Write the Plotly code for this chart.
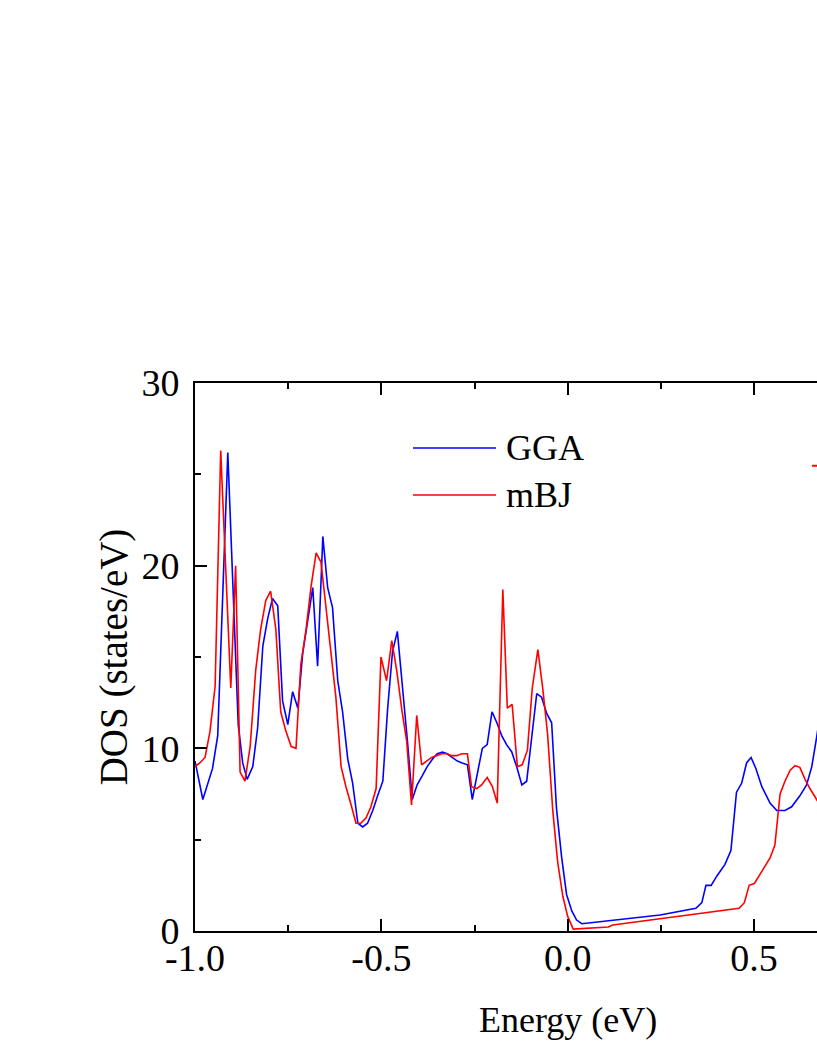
import plotly.graph_objects as go

# GGA curve
energy_gga = [-1.000, -0.979, -0.953, -0.939, -0.912, -0.884, -0.872, -0.860, -0.845, -0.832,
              -0.818, -0.805, -0.792, -0.778, -0.765, -0.751, -0.738, -0.724, -0.711, -0.698,
              -0.684, -0.671, -0.657, -0.644, -0.631, -0.617, -0.604, -0.590, -0.577, -0.563,
              -0.550, -0.537, -0.523, -0.510, -0.496, -0.483, -0.470, -0.457, -0.444, -0.430,
              -0.417, -0.404, -0.390, -0.377, -0.363, -0.350, -0.336, -0.323, -0.310, -0.296,
              -0.283, -0.269, -0.256, -0.243, -0.229, -0.216, -0.203, -0.190, -0.177, -0.164,
              -0.150, -0.137, -0.123, -0.110, -0.097, -0.083, -0.070, -0.056, -0.043, -0.030,
              -0.016, -0.003, 0.011, 0.024, 0.038, 0.248, 0.344, 0.360, 0.371, 0.385,
              0.400, 0.422, 0.438, 0.453, 0.467, 0.480, 0.492, 0.505, 0.521, 0.543,
              0.561, 0.583, 0.601, 0.623, 0.641, 0.655, 0.668, 0.685, 0.700]
dos_gga = [9.3, 7.2, 8.9, 10.7, 26.2, 11.3, 9.2, 8.3, 9.0, 11.1,
           15.6, 17.1, 18.2, 17.8, 12.6, 11.3, 13.1, 12.2, 15.2, 17.0,
           18.8, 14.5, 21.6, 18.8, 17.7, 13.7, 12.0, 9.4, 8.1, 5.9,
           5.7, 5.9, 6.6, 7.4, 8.2, 12.2, 15.3, 16.4, 13.7, 10.4,
           7.2, 8.0, 8.5, 9.0, 9.4, 9.7, 9.8, 9.7, 9.5, 9.3,
           9.2, 9.1, 7.2, 8.6, 10.0, 10.2, 12.0, 11.4, 10.7, 10.2,
           9.8, 9.0, 8.0, 8.2, 10.6, 13.0, 12.8, 11.9, 11.4, 6.7,
           4.0, 2.0, 1.1, 0.6, 0.4, 0.88, 1.24, 1.55, 2.5, 2.5,
           3.0, 3.65, 4.4, 7.6, 8.1, 9.2, 9.5, 8.9, 7.9, 7.0,
           6.6, 6.6, 6.8, 7.4, 8.0, 9.0, 10.6, 13.0, 15.0]

# mBJ curve
energy_mbj = [-1.000, -0.987, -0.973, -0.960, -0.946, -0.931, -0.904, -0.891, -0.879, -0.866,
              -0.852, -0.837, -0.824, -0.810, -0.797, -0.783, -0.770, -0.757, -0.742, -0.729,
              -0.716, -0.702, -0.689, -0.675, -0.662, -0.649, -0.635, -0.622, -0.608, -0.595,
              -0.581, -0.568, -0.555, -0.541, -0.528, -0.514, -0.501, -0.486, -0.472, -0.459,
              -0.445, -0.432, -0.419, -0.405, -0.392, -0.378, -0.365, -0.352, -0.338, -0.325,
              -0.311, -0.298, -0.284, -0.269, -0.258, -0.244, -0.231, -0.216, -0.202, -0.189,
              -0.174, -0.162, -0.149, -0.135, -0.122, -0.108, -0.095, -0.080, -0.067, -0.054,
              -0.040, -0.027, -0.013, 0.000, 0.015, 0.109, 0.121, 0.460, 0.474, 0.487,
              0.501, 0.516, 0.543, 0.556, 0.570, 0.583, 0.597, 0.610, 0.623, 0.637,
              0.650, 0.668, 0.685, 0.700]
dos_mbj = [9.0, 9.2, 9.5, 10.9, 13.4, 26.3, 13.3, 20.0, 8.7, 8.2,
           10.1, 14.3, 16.5, 18.1, 18.6, 16.5, 12.0, 11.0, 10.1, 10.0,
           14.6, 16.5, 18.8, 20.7, 20.2, 17.9, 15.2, 12.8, 9.0, 7.9,
           6.9, 5.9, 5.9, 6.2, 6.8, 7.8, 15.0, 13.7, 15.9, 14.3,
           12.1, 10.4, 6.9, 11.8, 9.1, 9.3, 9.5, 9.6, 9.7, 9.7,
           9.6, 9.6, 9.7, 9.7, 7.9, 7.8, 8.0, 8.4, 7.9, 7.0,
           18.7, 12.2, 12.4, 9.0, 9.1, 9.9, 13.3, 15.4, 13.3, 10.8,
           6.6, 3.8, 1.9, 0.8, 0.1, 0.22, 0.33, 1.24, 1.55, 2.5,
           2.6, 3.1, 4.0, 4.7, 7.5, 8.2, 8.8, 9.05, 8.96, 8.3,
           7.8, 7.2, 6.6, 6.2]

x_tickvals = [-1.0, -0.5, 0.0, 0.5]
x_ticktext = ["-1.0", "-0.5", "0.0", "0.5"]
y_tickvals = [0, 10, 20, 30]
y_ticktext = ["0", "10", "20", "30"]

FONT = "Liberation Serif, Times New Roman, serif"
BLUE = "#0000ff"
RED = "#ff0000"

fig = go.Figure()
fig.add_trace(go.Scatter(x=energy_gga, y=dos_gga, mode="lines", name="GGA",
                         line=dict(color=BLUE, width=1.6)))
fig.add_trace(go.Scatter(x=energy_mbj, y=dos_mbj, mode="lines", name="mBJ",
                         line=dict(color=RED, width=1.6)))

axis_common = dict(
    showline=True, linewidth=2, linecolor="black",
    ticks="inside", ticklen=12, tickwidth=2, tickcolor="black",
    showgrid=False, zeroline=False, automargin=False,
    tickfont=dict(family=FONT, size=38, color="black"),
)

fig.update_xaxes(range=[-1.0, 0.669], tickvals=x_tickvals, ticktext=x_ticktext,
                 mirror="ticks", ticklabelstandoff=-8,
                 minor=dict(dtick=0.25, tick0=-1.0, ticks="inside", ticklen=6,
                            tickwidth=2, tickcolor="black"),
                 **axis_common)
fig.update_yaxes(range=[0, 30], tickvals=y_tickvals, ticktext=y_ticktext,
                 ticklabelstandoff=6,
                 minor=dict(dtick=5, tick0=0, ticks="inside", ticklen=6,
                            tickwidth=2, tickcolor="black"),
                 title=dict(text="DOS (states/eV)", standoff=2,
                            font=dict(family=FONT, size=39, color="black")),
                 **axis_common)

# hand-drawn legend with long line samples like the original
legend_items = [("GGA", BLUE, 0.8814), ("mBJ", RED, 0.7956)]
for label, col, ly in legend_items:
    fig.add_shape(type="line", xref="paper", yref="paper",
                  x0=0.3505, x1=0.4839, y0=ly, y1=ly,
                  line=dict(color=col, width=1.6))
    fig.add_annotation(text=label, xref="paper", yref="paper", x=0.497, y=ly,
                       xanchor="left", yanchor="middle", showarrow=False,
                       font=dict(family=FONT, size=36, color="black"))

# stray red dash at the cropped right edge
fig.add_shape(type="line", xref="paper", yref="paper", x0=0.992, x1=1.0,
              y0=0.849, y1=0.849, line=dict(color=RED, width=2))

# x title centred on the full (uncropped) axis
fig.add_annotation(text="Energy (eV)", xref="paper", yref="paper", x=0.5997, y=-0.162,
                   xanchor="center", yanchor="middle", showarrow=False,
                   font=dict(family=FONT, size=36, color="black"))

fig.update_layout(width=817, height=1058, showlegend=False,
                  margin=dict(l=195, r=0, t=383, b=127),
                  plot_bgcolor="white", paper_bgcolor="white")

# drop the default page margin / scrollbars so the figure fills the window
fig.write_html("out.html", config={"displayModeBar": False},
               post_script="document.body.style.margin='0';"
                           "document.documentElement.style.overflow='hidden';"
                           "document.body.style.overflow='hidden';")
